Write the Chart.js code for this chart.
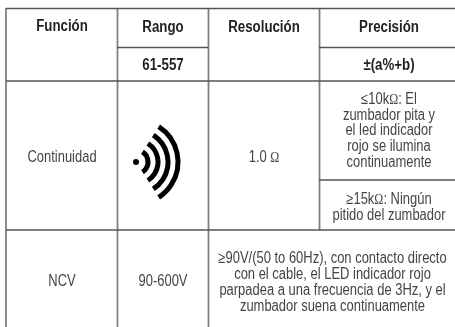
<!DOCTYPE html>
<html>
<head>
<meta charset="utf-8">
<style>
  html, body { margin: 0; padding: 0; background: #fff; }
  #wrap { width: 455px; height: 327px; }
</style>
<script src="https://cdn.jsdelivr.net/npm/chart.js@4"></script>
</head>
<body>
<div id="wrap"><canvas id="tableChart" width="455" height="327"></canvas></div>
<script>
// table rules: [x1, y1, x2, y2]
const ruleLines = [
  [6, 8.5, 455, 8.5],
  [117, 47.5, 208, 47.5],
  [319, 47.5, 455, 47.5],
  [6, 81, 455, 81],
  [319, 180, 455, 180],
  [6, 230, 455, 230],
  [6, 8, 6, 327],
  [117.5, 8, 117.5, 327],
  [208.5, 8, 208.5, 327],
  [319.5, 8, 319.5, 230]
];

const headerTexts = ['Función', 'Rango', 'Resolución', 'Precisión', '61-557', '±(a%+b)'];
const headerX = [62, 163, 264, 389, 163, 389];
const headerY = [27, 28, 28, 28, 66, 66];

const bodyLines = [
  'Continuidad', '1.0 Ω',
  '≤10kΩ: El', 'zumbador pita y', 'el led indicador', 'rojo se ilumina', 'continuamente',
  '≥15kΩ: Ningún', 'pitido del zumbador',
  'NCV', '90-600V',
  '≥90V/(50 to 60Hz), con contacto directo', 'con el cable, el LED indicador rojo',
  'parpadea a una frecuencia de 3Hz, y el', 'zumbador suena continuamente'
];
const bodyX = [62, 264, 389, 389, 389, 389, 389, 389, 389, 62, 163, 332.5, 332.5, 332.5, 332.5];
const bodyY = [158, 158, 100, 116, 131, 147, 163, 200, 216, 282, 282, 259, 275, 291, 307];

// sound icon: dot and arcs
const iconDot = [136, 162];
const iconRadii = [12, 22, 32, 42];

const ruleSets = ruleLines.map(r => ({
  data: [{ x: r[0], y: r[1] }, { x: r[2], y: r[3] }],
  type: 'line',
  borderColor: r[1] === r[3] ? '#555' : '#808080',
  borderWidth: r[1] === r[3] ? 1.4 : 1.8,
  pointRadius: 0,
  tension: 0
}));

// dot of the icon goes in as a point
ruleSets.push({
  data: [{ x: iconDot[0], y: iconDot[1] }],
  type: 'scatter',
  backgroundColor: '#000',
  borderWidth: 0,
  pointRadius: 3
});

const sansFont = '16px "Liberation Sans"';
const omegaFont = '15px "Liberation Serif"';

// canvas text squeezed sideways, no condensed font is installed
function squeezed(c, text, x, y, ratio) {
  c.save();
  c.translate(x, y);
  c.scale(ratio, 1);
  c.fillText(text, 0, 0);
  c.restore();
}

// same, but the omega is set in a serif like the reference
function squeezedBody(c, text, x, y, ratio) {
  const runs = text.split(/(Ω)/).filter(s => s);
  const fontOf = s => (s === 'Ω' ? omegaFont : sansFont);
  const widths = runs.map(s => { c.font = fontOf(s); return c.measureText(s).width; });
  const total = widths.reduce((a, b) => a + b, 0);
  c.save();
  c.translate(x - total * ratio / 2, y);
  c.scale(ratio, 1);
  c.textAlign = 'left';
  let at = 0;
  runs.forEach((s, i) => {
    c.font = fontOf(s);
    c.fillText(s, at, 0);
    at += widths[i];
  });
  c.restore();
}

const textPlugin = {
  id: 'tableText',
  afterDatasetsDraw(chart) {
    const c = chart.ctx;
    const sx = chart.scales.x;
    const sy = chart.scales.y;
    c.save();
    c.textAlign = 'center';
    c.textBaseline = 'middle';
    c.fillStyle = '#222';
    c.font = 'bold 16px "Liberation Sans"';
    headerTexts.forEach((t, i) => squeezed(c, t, sx.getPixelForValue(headerX[i]), sy.getPixelForValue(headerY[i]), 0.83));
    c.fillStyle = '#444';
    bodyLines.forEach((t, i) => squeezedBody(c, t, sx.getPixelForValue(bodyX[i]), sy.getPixelForValue(bodyY[i]), 0.81));
    // arcs of the icon
    c.strokeStyle = '#000';
    c.lineWidth = 5;
    iconRadii.forEach(r => {
      c.beginPath();
      c.arc(sx.getPixelForValue(iconDot[0]), sy.getPixelForValue(iconDot[1]), r, -1, 1);
      c.stroke();
    });
    c.restore();
  }
};

new Chart(document.getElementById('tableChart').getContext('2d'), {
  type: 'scatter',
  data: { datasets: ruleSets },
  plugins: [textPlugin],
  options: {
    responsive: false,
    animation: false,
    layout: { padding: 0, autoPadding: false },
    plugins: { legend: { display: false }, tooltip: { enabled: false } },
    scales: {
      x: { type: 'linear', min: 0, max: 455, display: false },
      y: { type: 'linear', min: 0, max: 327, reverse: true, display: false }
    }
  }
});
</script>
</body>
</html>
